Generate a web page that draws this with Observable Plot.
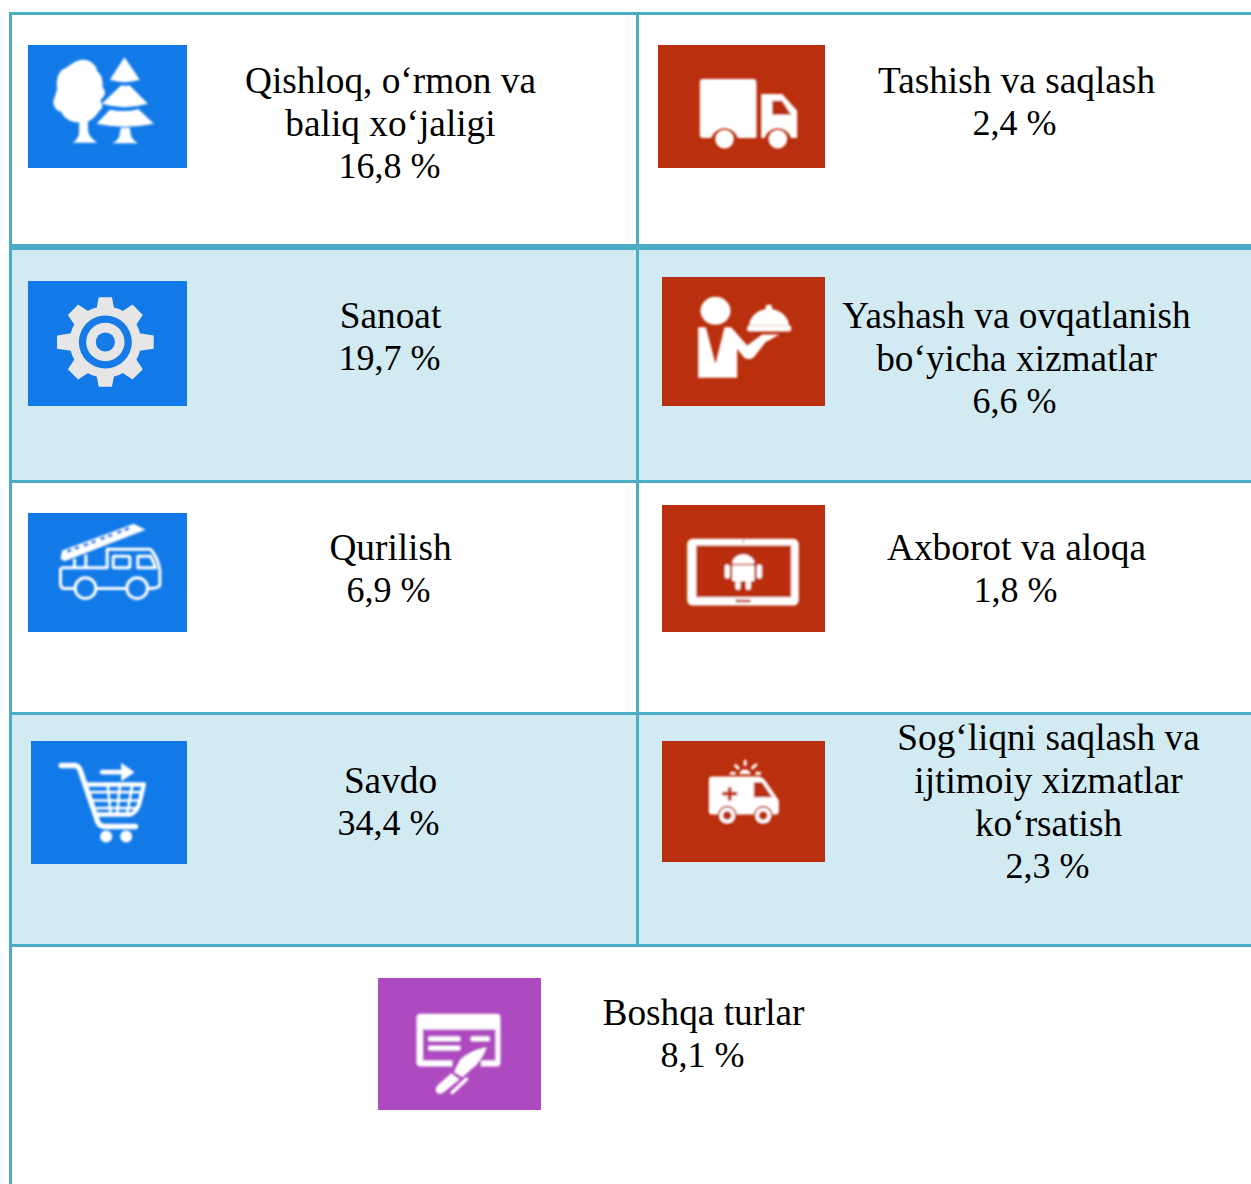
<!DOCTYPE html>
<html><head><meta charset="utf-8">
<script src="https://cdn.jsdelivr.net/npm/d3@7"></script>
<script src="https://cdn.jsdelivr.net/npm/@observablehq/plot@0.6"></script>
<style>html,body{margin:0;padding:0;background:#fff;overflow:hidden}svg{display:block}</style>
</head><body><div id="c"></div>
<script>
const sectors = ["Qishloq, o‘rmon va\nbaliq xo‘jaligi","Sanoat","Qurilish","Savdo","Tashish va saqlash","Yashash va ovqatlanish\nbo‘yicha xizmatlar","Axborot va aloqa","Sog‘liqni saqlash va\nijtimoiy xizmatlar\nko‘rsatish","Boshqa turlar"];
const shares = ["16,8","19,7","6,9","34,4","2,4","6,6","1,8","2,3","8,1"];
const labelX = [390,390,390,390,1016,1016,1016,1048,703];
const labelY = [80,315,547,780,80,315,547,737,1012];
const shareX = [389,389,388,388,1014,1014,1015,1047,702];
const tileX1 = [28,28,28,31,658,662,662,662,378];
const tileX2 = [187,187,187,187,825,825,825,825,541];
const tileY1 = [45,281,513,741,45,277,505,741,978];
const tileY2 = [168,406,632,864,168,406,632,862,1110];
const tileFill = ["#127ae8","#127ae8","#127ae8","#127ae8","#ba2f0d","#ba2f0d","#ba2f0d","#ba2f0d","#ae4abf"];
const bandY1 = [250,715], bandY2 = [480,944];
const hY = [13.5,247,481.5,713.5,945.5], hW = [3,6,3,3,3];
const B="#127ae8",R="#ba2f0d",P="#ae4abf";
const W='fill="#fff"';
const G='fill="#e6e6e6"';
const icons = [
 {vb:[84,135,477,369],d:`<path ${W} d="M245 178C270 176 288 195 290 212C305 222 308 245 306 262C320 272 312 290 300 298L306 320C292 335 285 352 262 364L263 392C266 408 280 418 290 427H216C230 418 236 405 236 392V366C212 366 192 356 182 334C165 330 155 312 160 296C166 285 166 275 170 265C166 240 172 215 190 205C205 200 220 180 245 178Z"/><path ${W} d="M372 170L418 238Q372 252 328 238Z"/><path ${W} d="M362 254Q375 258 387 254L442 310Q372 330 304 310Z"/><path ${W} d="M328 328Q372 336 414 326L460 370Q372 388 288 370Z"/><path ${W} d="M361 382H388L392 408Q398 420 412 428H336Q352 420 356 408Z"/>`},
 {vb:[0,0,480,378],d:`<g transform="translate(232 183)"><g ${G}>${[0,180].map(a=>`<path transform="rotate(${a})" d="M-27 -98L-20 -135H20L27 -98Z"/>`).join("")}${[90,270].map(a=>`<path transform="rotate(${a})" d="M-27 -98L-20 -146H20L27 -98Z"/>`).join("")}${[45,135,225,315].map(a=>`<path transform="rotate(${a})" d="M-30 -98L-22 -138H22L30 -98Z"/>`).join("")}<circle r="108"/></g><circle r="80" fill="${B}"/><circle r="58" ${G}/><circle r="29" fill="${B}"/></g>`},
 {vb:[84,69,477,357],d:`<path d="M180 205L185 180L400 100L435 118L192 212Z" fill="#fff"/><path d="M200 183L240 168M250 165L290 150M300 146L340 131M350 127L395 110" stroke="${B}" stroke-width="9" stroke-dasharray="14 10" fill="none"/><g fill="none" stroke="#fff" stroke-width="9" stroke-linejoin="round"><path d="M182 232H320V176H450Q472 200 478 240V282Q478 294 440 294M378 294H288M222 294H190Q180 292 180 280V232"/><path d="M222 205V232M256 192V232"/><rect x="338" y="197" width="50" height="35" rx="5"/><path d="M412 197H450Q460 215 465 232H412Z"/><circle cx="255" cy="293" r="31"/><circle cx="410" cy="293" r="31"/></g>`},
 {vb:[93,753,468,369],d:`<g fill="none" stroke="#fff" stroke-linecap="round" stroke-linejoin="round"><path stroke-width="16" d="M182 825H222Q235 825 240 842L292 995Q298 1008 315 1008H405"/><path stroke-width="14" d="M305 845H380"/><path stroke-width="13" d="M255 882H430L420 925Q412 965 390 972H288"/><path stroke-width="8" d="M272 905H425M280 930H418M290 953H405M322 885L330 970M358 885L350 970M395 885L380 970"/></g><path ${W} d="M362 817L402 845L362 873Z"/><circle ${W} cx="317" cy="1038" r="18"/><circle ${W} cx="377" cy="1038" r="18"/>`},
 {vb:[84,45,501,368],d:`<path ${W} d="M218 145H368Q378 145 378 155V322H322A42 42 0 0 0 242 322H218Q208 322 208 312V155Q208 145 218 145Z"/><path ${W} d="M392 190H455L500 240V322H482A42 42 0 0 0 402 322H392Z"/><path fill="${R}" d="M425 210H455L482 252H425Z"/><circle ${W} cx="282" cy="325" r="28"/><circle ${W} cx="442" cy="325" r="28"/>`},
 {vb:[96,741,489,387],d:`<ellipse ${W} cx="255" cy="841" rx="45" ry="42"/><path ${W} d="M203 890H226L255 1000L282 890H302L350 945L395 912H447L405 935L370 980Q355 992 340 980L320 955V1042H203Z"/><path ${W} d="M355 885C360 850 390 835 415 835C445 835 472 855 476 885Z"/><rect ${W} x="350" y="885" width="132" height="18" rx="6"/><circle ${W} cx="415" cy="832" r="10"/>`},
 {vb:[96,45,489,381],d:`<rect ${W} x="170" y="145" width="335" height="200" rx="16"/><rect fill="${R}" x="197" y="165" width="285" height="155"/><rect fill="${R}" x="315" y="328" width="46" height="7" rx="3"/><g ${W}><circle cx="338" cy="152" r="3" fill="${R}"/><path d="M305 220A33 28 0 0 1 372 220Z"/><rect x="305" y="224" width="67" height="48" rx="4"/><rect x="283" y="222" width="15" height="42" rx="7"/><rect x="379" y="222" width="15" height="42" rx="7"/><rect x="315" y="268" width="15" height="30" rx="6"/><rect x="346" y="268" width="15" height="30" rx="6"/></g>`},
 {vb:[96,753,489,363],d:`<path ${W} d="M245 858H385Q398 860 408 875L445 930V962Q445 972 435 972H245Q235 972 235 962V868Q235 858 245 858Z"/><path fill="${R}" d="M370 875H395L425 920H370Z"/><path fill="${R}" d="M292 890H303V904H320V915H303V930H292V915H275V904H292Z"/><circle fill="${R}" cx="290" cy="975" r="29"/><circle fill="${R}" cx="398" cy="975" r="29"/><circle ${W} cx="290" cy="975" r="24"/><circle ${W} cx="398" cy="975" r="24"/><circle fill="${R}" cx="290" cy="975" r="13"/><circle fill="${R}" cx="398" cy="975" r="13"/><path ${W} d="M326 851A18 18 0 0 1 361 851Z"/><g stroke="#fff" stroke-width="9" stroke-linecap="round"><path d="M344 812V822M315 825L323 833M376 823L366 832M302 848H312M378 848H388"/></g>`},
 {vb:[54,144,489,396],d:`<rect ${W} x="168" y="250" width="252" height="158" rx="12"/><rect fill="${P}" x="187" y="297" width="218" height="93"/><path fill="${P}" d="M275 380H362V412H275Z"/><g ${W}><rect x="203" y="318" width="97" height="14" rx="6"/><rect x="203" y="346" width="97" height="14" rx="6"/><rect x="330" y="318" width="58" height="14" rx="6"/></g><path ${W} d="M378 350Q325 362 300 388L280 425L306 440L345 405Q368 380 378 350Z"/><path ${W} d="M272 428L298 446L250 485Q238 494 228 486Q222 475 232 464Z"/><path fill="none" stroke="#fff" stroke-width="11" stroke-linecap="round" d="M318 446L275 486"/>`}
];
const iconSrc = icons.map(({vb,d}) => "data:image/svg+xml;charset=utf-8," + encodeURIComponent(
 `<svg xmlns="http://www.w3.org/2000/svg" viewBox="${vb.join(" ")}" preserveAspectRatio="none"><filter id="b" x="-10%" y="-10%" width="120%" height="120%"><feGaussianBlur stdDeviation="2.4"/></filter><g filter="url(#b)">${d}</g></svg>`));
const idx = sectors.map((_,i)=>i);
const nameLines = idx.flatMap(i => sectors[i].split("\n").map((t,k)=>({t,x:labelX[i],y:labelY[i]+0.6+k*43})));
const shareLines = idx.map(i => ({t:shares[i]+" %",x:shareX[i],y:labelY[i]+sectors[i].split("\n").length*43}));
const ink = "#4bacc6";
const chart = Plot.plot({
  width:1251,height:1184,margin:0,
  x:{domain:[0,1251],range:[0,1251],axis:null},
  y:{domain:[0,1184],range:[0,1184],axis:null},
  style:{background:"#fff"},
  marks:[
    Plot.rect(bandY1.map((a,i)=>[a,bandY2[i]]),{x1:()=>12,x2:()=>1251,y1:d=>d[0],y2:d=>d[1],fill:"#d2eaf1"}),
    Plot.rect(hY.map((y,i)=>[y,hW[i]]),{x1:()=>9,x2:()=>1251,y1:d=>d[0]-d[1]/2,y2:d=>d[0]+d[1]/2,fill:ink}),
    Plot.rect([[9,12,12,1184],[636,639,12,947]],{x1:d=>d[0],x2:d=>d[1],y1:d=>d[2],y2:d=>d[3],fill:ink}),
    Plot.rect(idx,{x1:i=>tileX1[i],x2:i=>tileX2[i],y1:i=>tileY1[i],y2:i=>tileY2[i],fill:i=>tileFill[i]}),
    Plot.image(idx,{x:i=>(tileX1[i]+tileX2[i])/2,y:i=>(tileY1[i]+tileY2[i])/2,width:i=>tileX2[i]-tileX1[i],height:i=>tileY2[i]-tileY1[i],src:i=>iconSrc[i],preserveAspectRatio:"none"}),
    Plot.text(nameLines,{x:"x",y:"y",text:"t",fill:"#000",fontSize:37.3,fontFamily:"Liberation Serif",textAnchor:"middle",lineAnchor:"middle"}),
    Plot.text(shareLines,{x:"x",y:"y",text:"t",fill:"#000",fontSize:36,fontFamily:"Liberation Serif",textAnchor:"middle",lineAnchor:"middle"})
  ]
});
document.getElementById("c").append(chart);
</script></body></html>
